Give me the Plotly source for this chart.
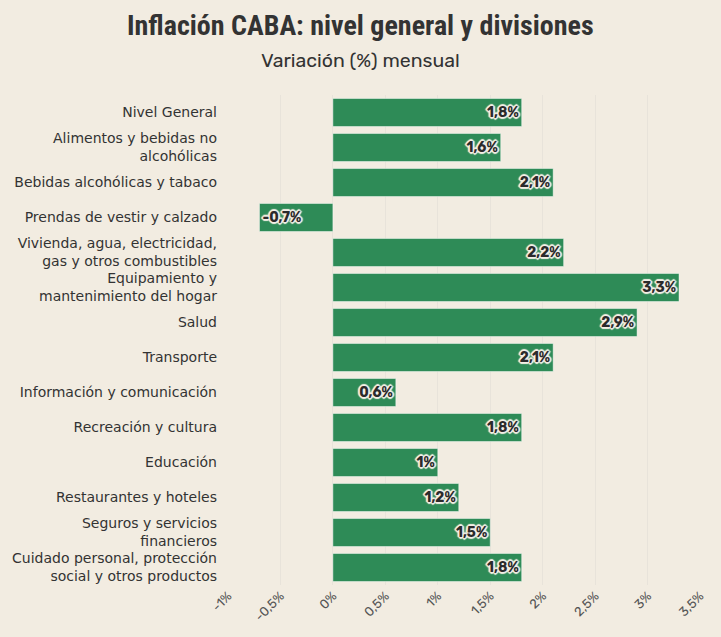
import plotly.graph_objects as go

categories = [
    "Nivel General",
    "Alimentos y bebidas no<br>alcohólicas",
    "Bebidas alcohólicas y tabaco",
    "Prendas de vestir y calzado",
    "Vivienda, agua, electricidad,<br>gas y otros combustibles",
    "Equipamiento y<br>mantenimiento del hogar",
    "Salud",
    "Transporte",
    "Información y comunicación",
    "Recreación y cultura",
    "Educación",
    "Restaurantes y hoteles",
    "Seguros y servicios<br>financieros",
    "Cuidado personal, protección<br>social y otros productos",
]
values = [1.8, 1.6, 2.1, -0.7, 2.2, 3.3, 2.9, 2.1, 0.6, 1.8, 1.0, 1.2, 1.5, 1.8]
tick_vals = [-1, -0.5, 0, 0.5, 1, 1.5, 2, 2.5, 3, 3.5]
tick_text = ["-1%", "-0,5%", "0%", "0,5%", "1%", "1,5%", "2%", "2,5%", "3%", "3,5%"]
title_text = "Inflación CABA: nivel general y divisiones"
subtitle_text = "Variación (%) mensual"


def fmt(v):
    s = ("%g" % v).replace(".", ",")
    return s + "%"


labels = [fmt(v) for v in values]

BG = "#f2ece1"
FONT = "Rubik, Inter, Lato, sans-serif"
LABEL_FONT = "DejaVu Sans, sans-serif"
HALO = "#f4efe6"

L, R, T, B, W, H = 228, 21, 95, 52, 721, 637
center_x = ((W / 2) - L) / (W - L - R)

fig = go.Figure(
    go.Bar(
        y=categories,
        x=values,
        orientation="h",
        marker=dict(color="#2e8b57", line=dict(color="rgba(255,255,255,0.45)", width=1)),
        text=labels,
        textposition="inside",
        insidetextanchor="end",
        textangle=0,
        constraintext="none",
        textfont=dict(
            family=FONT, size=14, color="#2b2b2b", weight="bold",
            shadow=(f"2px 0px 1px {HALO}, -2px 0px 1px {HALO}, 0px 2px 1px {HALO}, 0px -2px 1px {HALO}, "
                    f"1px 1px 1px {HALO}, -1px -1px 1px {HALO}, 1px -1px 1px {HALO}, -1px 1px 1px {HALO}"),
        ),
        cliponaxis=False,
        hoverinfo="skip",
    )
)

fig.update_layout(
    width=W,
    height=H,
    paper_bgcolor=BG,
    plot_bgcolor=BG,
    margin=dict(l=L, r=R, t=T, b=B),
    bargap=0.2,
    showlegend=False,
    font=dict(family=FONT, color="#333333"),
    annotations=[
        dict(text=title_text, xref="paper", yref="paper", x=center_x, y=1, yshift=70,
             xanchor="center", yanchor="middle", showarrow=False,
             font=dict(family="Roboto Condensed, Liberation Sans Narrow, DejaVu Sans Condensed, sans-serif",
                       size=28, color="#333333", weight="bold")),
        dict(text=subtitle_text, xref="paper", yref="paper", x=center_x, y=1, yshift=35,
             xanchor="center", yanchor="middle", showarrow=False,
             font=dict(family=FONT, size=19.5, color="#333333")),
    ],
    xaxis=dict(
        range=[-1, 3.5],
        tickvals=tick_vals,
        ticktext=tick_text,
        tickangle=-45,
        tickfont=dict(family=FONT, size=13, color="#555555"),
        showgrid=True,
        gridcolor="#e8e3da",
        gridwidth=1,
        zeroline=False,
        showline=False,
        ticks="",
    ),
    yaxis=dict(
        autorange="reversed",
        tickfont=dict(family=LABEL_FONT, size=14, color="#333333"),
        ticks="",
        ticklabelstandoff=10,
        showgrid=False,
        zeroline=False,
    ),
)

fig.write_html("out.html")
